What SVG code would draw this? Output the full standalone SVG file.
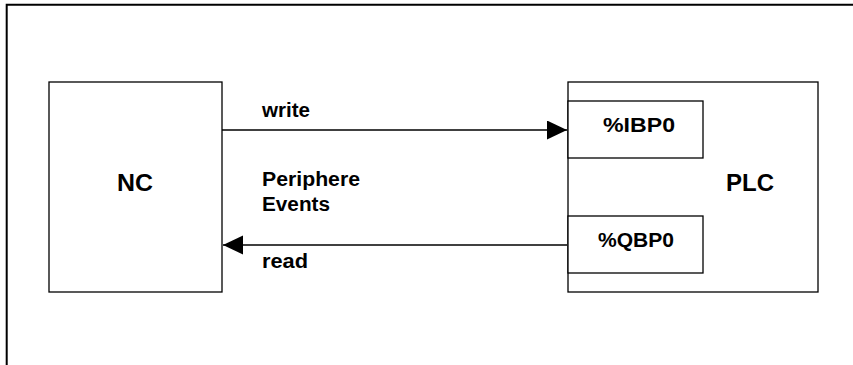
<svg xmlns="http://www.w3.org/2000/svg" width="853" height="365" viewBox="0 0 853 365">
<style>
.box{fill:#fff;stroke:#000;stroke-width:1.3}
.conn{stroke:#000;stroke-width:1.3;fill:none}
.big{font-family:"Liberation Sans",Arial,sans-serif;font-weight:bold;font-size:23px;fill:#000}
.lbl{font-family:"Liberation Sans",Arial,sans-serif;font-weight:bold;font-size:20px;fill:#000}
.reg{font-family:"Liberation Sans",Arial,sans-serif;font-weight:bold;font-size:21px;fill:#000}
</style>
<defs>
<marker id="ah" markerUnits="userSpaceOnUse" markerWidth="20" markerHeight="20" refX="20" refY="9.5" orient="auto">
<path d="M0,0 L20,9.5 L0,19 Z" fill="#000"/>
</marker>
</defs>
<rect width="853" height="365" fill="#fff"/>
<g id="frame">
<polyline points="6.7,365 6.7,4.7 853,4.7" fill="none" stroke="#000" stroke-width="2"/>
</g>
<g id="nc">
<rect class="box" x="49" y="82" width="173" height="210"/>
<text class="big" x="135" y="191" text-anchor="middle" textLength="36" lengthAdjust="spacingAndGlyphs">NC</text>
</g>
<g id="plc">
<rect class="box" x="568" y="82" width="250" height="210"/>
<text class="big" x="750" y="191" text-anchor="middle" textLength="48" lengthAdjust="spacingAndGlyphs">PLC</text>
</g>
<g id="ibp0">
<rect class="box" x="568" y="101" width="135" height="57"/>
<text class="reg" x="603" y="132" textLength="72" lengthAdjust="spacingAndGlyphs">%IBP0</text>
</g>
<g id="qbp0">
<rect class="box" x="568" y="216" width="135" height="57"/>
<text class="reg" x="598" y="247" textLength="76" lengthAdjust="spacingAndGlyphs">%QBP0</text>
</g>
<g id="connectors">
<line class="conn" x1="222" y1="130" x2="567" y2="130" marker-end="url(#ah)"/>
<line class="conn" x1="567" y1="245" x2="223" y2="245" marker-end="url(#ah)"/>
<text class="lbl" x="262" y="117" textLength="48" lengthAdjust="spacingAndGlyphs">write</text>
<text class="lbl" x="262" y="186" textLength="98" lengthAdjust="spacingAndGlyphs">Periphere</text>
<text class="lbl" x="262" y="211" textLength="68" lengthAdjust="spacingAndGlyphs">Events</text>
<text class="lbl" x="262" y="268" textLength="46" lengthAdjust="spacingAndGlyphs">read</text>
</g>
</svg>
